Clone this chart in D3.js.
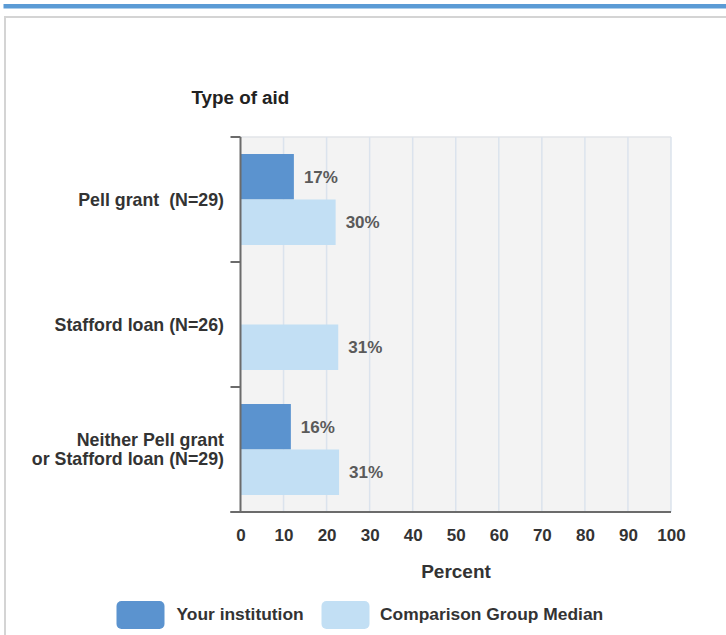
<!DOCTYPE html>
<html><head><meta charset="utf-8">
<script src="https://cdn.jsdelivr.net/npm/d3@7"></script>
<style>
html,body{margin:0;padding:0;background:#fff;}
svg{display:block;font-family:"Liberation Sans",Arial,Helvetica,sans-serif;}
</style></head>
<body>
<svg id="c" width="726" height="635"></svg>
<script>
const categories = [["Pell grant  (N=29)"], ["Stafford loan (N=26)"], ["Neither Pell grant", "or Stafford loan (N=29)"]];
const categoryKeys = ["pell", "stafford", "neither"];
const seriesNames = ["Your institution", "Comparison Group Median"];
const seriesColors = ["#5b93cf", "#c2dff4"];
// bar lengths as drawn in the picture (axis units)
const yourInstitution = [12.4, null, 11.7];
const comparisonMedian = [22.1, 22.7, 22.9];
// value labels as printed
const yourLabels = ["17%", null, "16%"];
const comparisonLabels = ["30%", "31%", "31%"];
const xTicks = [0, 10, 20, 30, 40, 50, 60, 70, 80, 90, 100];

(function () {
const svg = d3.select("#c");

// page frame
svg.append("rect").attr("x", 3.5).attr("y", 4).attr("width", 723).attr("height", 4.5).attr("fill", "#5b9bd5");
svg.append("path").attr("d", "M5,640 V17 H730").attr("fill", "none").attr("stroke", "#d4d4d4").attr("stroke-width", 2);

const pL = 240.5, pR = 671, pT = 137, pB = 512;
const x = d3.scaleLinear().domain([0, 100]).range([pL, pR]);
const y0 = d3.scaleBand().domain(categoryKeys).range([pT, pB]).padding(0);
const y1 = d3.scaleBand().domain([0, 1]).range([0, y0.bandwidth()]).paddingInner(0).paddingOuter(0.374);

// plot background
svg.append("rect").attr("x", pL).attr("y", pT).attr("width", pR - pL).attr("height", pB - pT).attr("fill", "#f3f3f3");
svg.append("line").attr("x1", pL).attr("x2", pR).attr("y1", pT).attr("y2", pT).attr("stroke", "#e2e5e8").attr("stroke-width", 1.5);

// gridlines
svg.append("g").selectAll("line").data(xTicks.filter(d => d > 0)).join("line")
  .attr("x1", d => x(d)).attr("x2", d => x(d)).attr("y1", pT).attr("y2", pB)
  .attr("stroke", "#dbe3ed").attr("stroke-width", 1.5);

// bars
const series = [yourInstitution, comparisonMedian];
const labels = [yourLabels, comparisonLabels];
series.forEach((vals, si) => {
  const g = svg.append("g");
  categoryKeys.forEach((k, ci) => {
    const v = vals[ci];
    if (v == null) return;
    const yy = y0(k) + y1(si);
    g.append("rect").attr("x", x(0)).attr("y", yy).attr("width", x(v) - x(0)).attr("height", y1.bandwidth()).attr("fill", seriesColors[si]);
    g.append("text").attr("x", x(v) + 10).attr("y", yy + y1.bandwidth() / 2).attr("dy", "0.36em")
      .attr("font-size", 17).attr("font-weight", "bold").attr("fill", "#5a5a5a").text(labels[si][ci]);
  });
});

// y axis
svg.append("line").attr("x1", pL).attr("x2", pL).attr("y1", pT).attr("y2", pB).attr("stroke", "#6b6b6b").attr("stroke-width", 2);
const bounds = categoryKeys.map(k => y0(k)).concat([pB]);
svg.append("g").selectAll("line").data(bounds).join("line")
  .attr("x1", pL - 10).attr("x2", pL).attr("y1", d => d).attr("y2", d => d)
  .attr("stroke", "#6b6b6b").attr("stroke-width", 2);
categoryKeys.forEach((k, ci) => {
  const lines = categories[ci];
  const cy = y0(k) + y0.bandwidth() / 2;
  const lh = 19;
  const t = svg.append("text").attr("text-anchor", "end").attr("font-size", 17.8).attr("font-weight", "bold").attr("fill", "#333")
    .attr("xml:space", "preserve");
  lines.forEach((ln, i) => {
    t.append("tspan").attr("x", 224).attr("y", cy + (i - (lines.length - 1) / 2) * lh).attr("dy", "0.36em").text(ln);
  });
});

// x axis
svg.append("line").attr("x1", pL - 10).attr("x2", pR).attr("y1", pB).attr("y2", pB).attr("stroke", "#6b6b6b").attr("stroke-width", 2);
const xAxis = svg.append("g").attr("transform", `translate(0,${pB})`)
  .call(d3.axisBottom(x).tickValues(xTicks).tickSize(0).tickPadding(17).tickFormat(d3.format("d")));
xAxis.select(".domain").remove();
xAxis.selectAll("text").attr("font-size", 17).attr("font-weight", "bold").attr("fill", "#333").attr("font-family", null);

// titles
svg.append("text").attr("x", 191.5).attr("y", 103.5).attr("font-size", 18.8).attr("font-weight", "bold").attr("fill", "#222").text("Type of aid");
svg.append("text").attr("x", 456).attr("y", 578).attr("text-anchor", "middle").attr("font-size", 19).attr("font-weight", "bold").attr("fill", "#333").text("Percent");

// legend
const legendX = [116.5, 321.5];
const legendTextX = [176.5, 380];
seriesNames.forEach((n, i) => {
  svg.append("rect").attr("x", legendX[i]).attr("y", 601).attr("width", 48).attr("height", 28).attr("rx", 5).attr("fill", seriesColors[i]);
  svg.append("text").attr("x", legendTextX[i]).attr("y", 614).attr("dy", "0.36em").attr("font-size", 17.4).attr("font-weight", "bold").attr("fill", "#333").text(n);
});
})();
</script>
</body></html>
